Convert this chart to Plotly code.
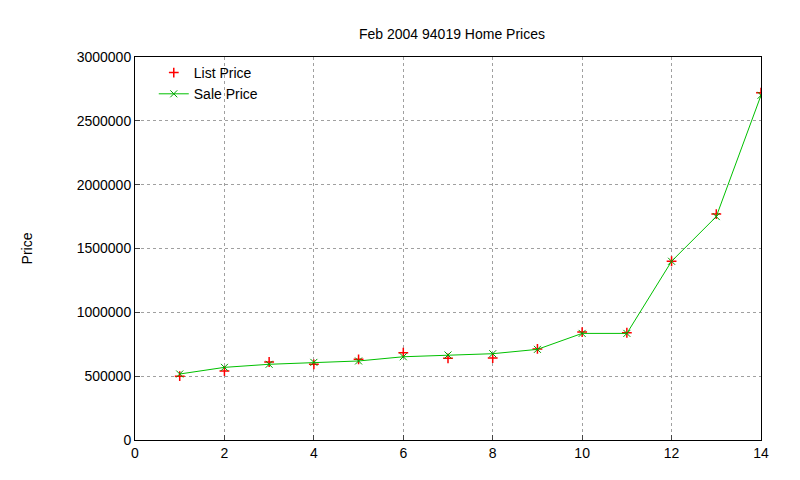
import plotly.graph_objects as go

x = list(range(1, 15))
list_price = [500000, 540000, 611000, 593000, 632000, 684000, 640000, 642000, 713000, 845000, 840000, 1400000, 1770000, 2720000]
sale_price = [517000, 569000, 593000, 608000, 619000, 652000, 666000, 676000, 710000, 835000, 835000, 1400000, 1750000, 2700000]

fig = go.Figure()
fig.add_trace(go.Scatter(x=x, y=list_price, mode='markers', name='List Price',
                         marker=dict(symbol='cross-thin', size=7, color='red', line=dict(width=1.5, color='red'))))
fig.add_trace(go.Scatter(x=x, y=sale_price, mode='lines+markers', name='Sale Price',
                         line=dict(color='#00c000', width=1),
                         marker=dict(symbol='x-thin', size=7, line=dict(width=1, color='#00a000'))))

ax = dict(showline=True, linecolor='black', mirror=True, ticks='inside', ticklen=5,
          showgrid=True, gridcolor='#a0a0a0', griddash='dot', zeroline=False,
          tickfont=dict(size=14, color='black'))
fig.update_xaxes(range=[0, 14], dtick=2, **ax)
fig.update_yaxes(range=[0, 3000000], dtick=500000, tickformat='d', **ax,
                 title=dict(text='Price', font=dict(size=14, color='black'), standoff=40))
fig.update_layout(
    width=800, height=480, plot_bgcolor='white', paper_bgcolor='white',
    font=dict(family='Liberation Sans, Arial', size=14, color='black'),
    title=dict(text='Feb 2004 94019 Home Prices', x=0.555, y=0.955, font=dict(size=14)),
    margin=dict(l=127, r=47, t=49, b=48),
    legend=dict(x=0.03, y=1.0, bgcolor='rgba(0,0,0,0)', font=dict(size=14), tracegroupgap=0),
)
fig.write_html("out.html")
